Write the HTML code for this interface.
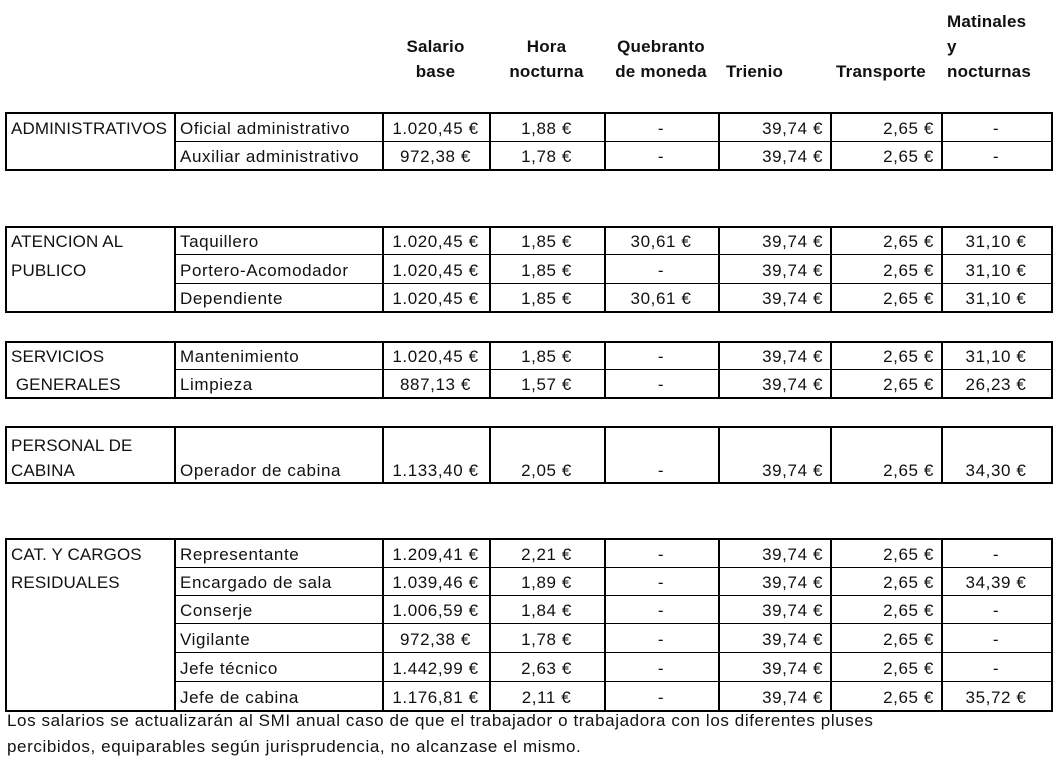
<!DOCTYPE html>
<html><head><meta charset="utf-8"><style>
body{margin:0;width:1054px;height:776px;background:#fff;position:relative;overflow:hidden;font-family:"Liberation Sans",sans-serif;font-size:17px;letter-spacing:0.6px;color:#111}
.r{position:absolute;left:0;width:1054px}
.r div{position:absolute;top:2px;height:100%;white-space:nowrap;box-sizing:border-box}
.c0{left:5px;padding-left:6px;letter-spacing:0.1px}
.c1{left:174px;width:208px;padding-left:6px}
.c2{left:382px;width:107px;text-align:center}
.c3{left:489px;width:115px;text-align:center}
.c4{left:604px;width:114px;text-align:center}
.c5{left:718px;width:112px;text-align:right;padding-right:7px}
.c6{left:830px;width:111px;text-align:right;padding-right:7px}
.c7{left:941px;width:110px;text-align:center}
.h{position:absolute;font-weight:bold;white-space:nowrap;line-height:25px;letter-spacing:0.2px}
.l{position:absolute;background:#000}
.t{position:absolute;white-space:nowrap}
</style></head><body>
<div class="h" style="left:382px;width:107px;top:34px;text-align:center">Salario<br>base</div>
<div class="h" style="left:489px;width:115px;top:34px;text-align:center">Hora<br>nocturna</div>
<div class="h" style="left:604px;width:114px;top:34px;text-align:center">Quebranto<br>de moneda</div>
<div class="h" style="left:726px;top:59px">Trienio</div>
<div class="h" style="left:836px;top:59px">Transporte</div>
<div class="h" style="left:947px;top:9px">Matinales<br>y<br>nocturnas</div>

<div class="r" style="top:112px;height:29px;line-height:29px"><div class="c0">ADMINISTRATIVOS</div><div class="c1">Oficial administrativo</div><div class="c2">1.020,45 €</div><div class="c3">1,88 €</div><div class="c4">-</div><div class="c5">39,74 €</div><div class="c6">2,65 €</div><div class="c7">-</div></div>
<div class="r" style="top:141px;height:28px;line-height:28px"><div class="c1">Auxiliar administrativo</div><div class="c2">972,38 €</div><div class="c3">1,78 €</div><div class="c4">-</div><div class="c5">39,74 €</div><div class="c6">2,65 €</div><div class="c7">-</div></div>

<div class="r" style="top:226px;height:28px;line-height:28px"><div class="c0">ATENCION AL</div><div class="c1">Taquillero</div><div class="c2">1.020,45 €</div><div class="c3">1,85 €</div><div class="c4">30,61 €</div><div class="c5">39,74 €</div><div class="c6">2,65 €</div><div class="c7">31,10 €</div></div>
<div class="r" style="top:254px;height:29px;line-height:29px"><div class="c0">PUBLICO</div><div class="c1">Portero-Acomodador</div><div class="c2">1.020,45 €</div><div class="c3">1,85 €</div><div class="c4">-</div><div class="c5">39,74 €</div><div class="c6">2,65 €</div><div class="c7">31,10 €</div></div>
<div class="r" style="top:283px;height:28px;line-height:28px"><div class="c1">Dependiente</div><div class="c2">1.020,45 €</div><div class="c3">1,85 €</div><div class="c4">30,61 €</div><div class="c5">39,74 €</div><div class="c6">2,65 €</div><div class="c7">31,10 €</div></div>

<div class="r" style="top:341px;height:28px;line-height:28px"><div class="c0">SERVICIOS</div><div class="c1">Mantenimiento</div><div class="c2">1.020,45 €</div><div class="c3">1,85 €</div><div class="c4">-</div><div class="c5">39,74 €</div><div class="c6">2,65 €</div><div class="c7">31,10 €</div></div>
<div class="r" style="top:369px;height:28px;line-height:28px"><div class="c0">&nbsp;GENERALES</div><div class="c1">Limpieza</div><div class="c2">887,13 €</div><div class="c3">1,57 €</div><div class="c4">-</div><div class="c5">39,74 €</div><div class="c6">2,65 €</div><div class="c7">26,23 €</div></div>

<div class="r" style="top:430px;height:28px;line-height:28px"><div class="c0">PERSONAL DE</div></div>
<div class="r" style="top:455px;height:28px;line-height:28px"><div class="c0">CABINA</div><div class="c1">Operador de cabina</div><div class="c2">1.133,40 €</div><div class="c3">2,05 €</div><div class="c4">-</div><div class="c5">39,74 €</div><div class="c6">2,65 €</div><div class="c7">34,30 €</div></div>

<div class="r" style="top:538px;height:29px;line-height:29px"><div class="c0">CAT. Y CARGOS</div><div class="c1">Representante</div><div class="c2">1.209,41 €</div><div class="c3">2,21 €</div><div class="c4">-</div><div class="c5">39,74 €</div><div class="c6">2,65 €</div><div class="c7">-</div></div>
<div class="r" style="top:567px;height:28px;line-height:28px"><div class="c0">RESIDUALES</div><div class="c1">Encargado de sala</div><div class="c2">1.039,46 €</div><div class="c3">1,89 €</div><div class="c4">-</div><div class="c5">39,74 €</div><div class="c6">2,65 €</div><div class="c7">34,39 €</div></div>
<div class="r" style="top:595px;height:28px;line-height:28px"><div class="c1">Conserje</div><div class="c2">1.006,59 €</div><div class="c3">1,84 €</div><div class="c4">-</div><div class="c5">39,74 €</div><div class="c6">2,65 €</div><div class="c7">-</div></div>
<div class="r" style="top:623px;height:29px;line-height:29px"><div class="c1">Vigilante</div><div class="c2">972,38 €</div><div class="c3">1,78 €</div><div class="c4">-</div><div class="c5">39,74 €</div><div class="c6">2,65 €</div><div class="c7">-</div></div>
<div class="r" style="top:652px;height:29px;line-height:29px"><div class="c1">Jefe técnico</div><div class="c2">1.442,99 €</div><div class="c3">2,63 €</div><div class="c4">-</div><div class="c5">39,74 €</div><div class="c6">2,65 €</div><div class="c7">-</div></div>
<div class="r" style="top:681px;height:29px;line-height:29px"><div class="c1">Jefe de cabina</div><div class="c2">1.176,81 €</div><div class="c3">2,11 €</div><div class="c4">-</div><div class="c5">39,74 €</div><div class="c6">2,65 €</div><div class="c7">35,72 €</div></div>

<div class="t" style="left:7px;top:711px">Los salarios se actualizarán al SMI anual caso de que el trabajador o trabajadora con los diferentes pluses</div>
<div class="t" style="left:7px;top:737px">percibidos, equiparables según jurisprudencia, no alcanzase el mismo.</div>

<div id="lines"></div>
<script>
var g=[[112,169,[141]],[226,311,[254,283]],[341,397,[369]],[426,482,[]],[538,710,[567,595,623,652,681]]];
var xs=[5,174,382,489,604,718,830,941,1051];var h='';
g.forEach(function(a){
h+='<div class="l" style="left:5px;width:1047px;top:'+a[0]+'px;height:2px"></div>';
h+='<div class="l" style="left:5px;width:1047px;top:'+a[1]+'px;height:2px"></div>';
a[2].forEach(function(y){h+='<div class="l" style="left:174px;width:878px;top:'+y+'px;height:1px"></div>';});
xs.forEach(function(x){h+='<div class="l" style="left:'+x+'px;width:2px;top:'+a[0]+'px;height:'+(a[1]-a[0]+2)+'px"></div>';});
});
document.getElementById('lines').innerHTML=h;
</script>
</body></html>
